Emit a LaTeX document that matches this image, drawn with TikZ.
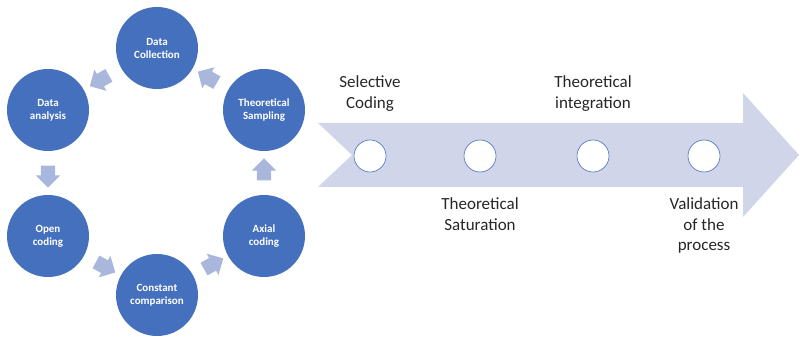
\documentclass[tikz,border=0pt]{standalone}
\usepackage{fontspec}
\setmainfont{Carlito}
\usepackage{tikz}
\usetikzlibrary{shapes.arrows}
\usetikzlibrary{positioning}
\usetikzlibrary{calc}
\definecolor{stepblue}{HTML}{4570BE}
\definecolor{arrowblue}{HTML}{A9B7DD}
\definecolor{bandblue}{HTML}{D0D5EA}

\tikzset{
	phase/.style={circle, fill=stepblue, minimum size=82pt, inner sep=0pt, align=center,
		text=white, font=\bfseries\fontsize{11}{13}\selectfont},
	flow/.style={single arrow, fill=arrowblue, minimum height=22pt, inner xsep=0pt, inner ysep=7pt,
		single arrow head extend=5pt},
	stage/.style={circle, draw=stepblue, fill=white, line width=0.6pt, minimum size=32pt, inner sep=0pt},
	stagelabel/.style={align=center, font=\fontsize{17}{20.5}\selectfont, text=black!85}
}

\begin{document}
\begin{tikzpicture}[x=1pt, y=1pt]
		\useasboundingbox (0,0) rectangle (799,337);
		
		% the cycle
		\node[phase] (dc) at (157,289) {Data\\Collection};
		\node[phase] (da) at (48,227) {Data\\analysis};
		\node[phase] (oc) at (48,101) {Open\\coding};
		\node[phase] (cc) at (157,42) {Constant\\comparison};
		\node[phase] (ac) at (264,101) {Axial\\coding};
		\node[phase] (ts) at (264,227) {Theoretical\\Sampling};
		
		\foreach \a/\b in {dc/da, da/oc, oc/cc, cc/ac, ac/ts, ts/dc}
			\path let \p1 = ($(\b)-(\a)$), \n1 = {atan2(\y1,\x1)} in
				node[flow, rotate=\n1] (\a-\b) at ($(\a)!0.5!(\b)$) {};
		
		% the band
		\fill[bandblue] (318,214) -- (743,214) -- (743,244) -- (799,182) -- (743,120)
			-- (743,150) -- (318,150) -- (352,182) -- cycle;
		
		\node[stage] (s1) at (370,181) {};
		\node[stage] (s2) at (480,181) {};
		\node[stage] (s3) at (593,181) {};
		\node[stage] (s4) at (704,181) {};
		
		\node[stagelabel, above=25pt of s1] (l1) {Selective\\Coding};
		\node[stagelabel, below=22pt of s2] (l2) {Theoretical\\Saturation};
		\node[stagelabel, above=25pt of s3] (l3) {Theoretical\\integration};
		\node[stagelabel, below=22pt of s4] (l4) {Validation\\of the\\process};
	\end{tikzpicture}
\end{document}
